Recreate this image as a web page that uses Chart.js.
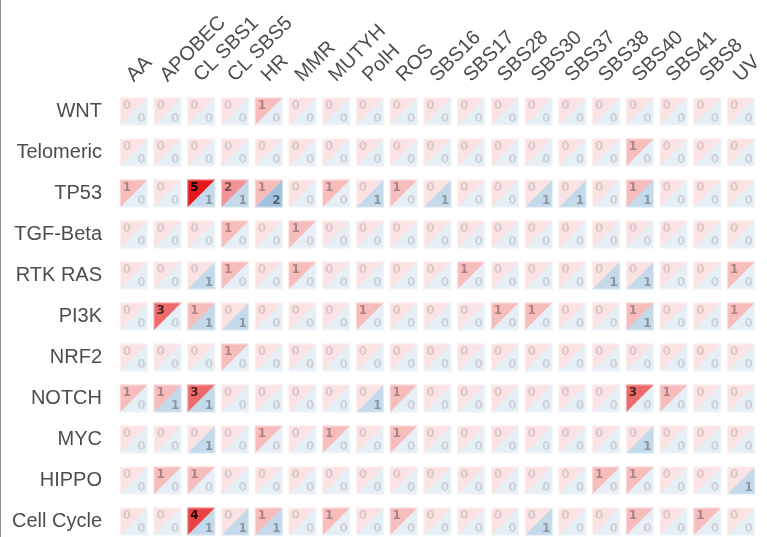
<!DOCTYPE html>
<html>
<head>
<meta charset="utf-8">
<script src="https://cdn.jsdelivr.net/npm/chart.js@4"></script>
<style>
  html, body { margin: 0; padding: 0; background: #fff; }
  canvas { display: block; }
</style>
</head>
<body>
<canvas id="myChart" width="767" height="537"></canvas>
<script>
const pathways = ["WNT", "Telomeric", "TP53", "TGF-Beta", "RTK RAS", "PI3K", "NRF2", "NOTCH", "MYC", "HIPPO", "Cell Cycle"];
const signatures = ["AA", "APOBEC", "CL SBS1", "CL SBS5", "HR", "MMR", "MUTYH", "PolH", "ROS", "SBS16", "SBS17", "SBS28", "SBS30", "SBS37", "SBS38", "SBS40", "SBS41", "SBS8", "UV"];

// upper-left triangle counts (red)
const redCounts = [
  [0,0,0,0,1,0,0,0,0,0,0,0,0,0,0,0,0,0,0],
  [0,0,0,0,0,0,0,0,0,0,0,0,0,0,0,1,0,0,0],
  [1,0,5,2,1,0,1,0,1,0,0,0,0,0,0,1,0,0,0],
  [0,0,0,1,0,1,0,0,0,0,0,0,0,0,0,0,0,0,0],
  [0,0,0,1,0,1,0,0,0,0,1,0,0,0,0,0,0,0,1],
  [0,3,1,0,0,0,0,1,0,0,0,1,1,0,0,1,0,0,1],
  [0,0,0,1,0,0,0,0,0,0,0,0,0,0,0,0,0,0,0],
  [1,1,3,0,0,0,0,0,1,0,0,0,0,0,0,3,1,0,0],
  [0,0,0,0,1,0,1,0,1,0,0,0,0,0,0,0,0,0,0],
  [0,1,1,0,0,0,0,0,0,0,0,0,0,0,1,1,0,0,0],
  [0,0,4,0,1,0,1,0,1,0,0,0,0,0,0,1,0,1,0]
];

// lower-right triangle counts (blue)
const blueCounts = [
  [0,0,0,0,0,0,0,0,0,0,0,0,0,0,0,0,0,0,0],
  [0,0,0,0,0,0,0,0,0,0,0,0,0,0,0,0,0,0,0],
  [0,0,1,1,2,0,0,1,0,1,0,0,1,1,0,1,0,0,0],
  [0,0,0,0,0,0,0,0,0,0,0,0,0,0,0,0,0,0,0],
  [0,0,1,0,0,0,0,0,0,0,0,0,0,0,1,1,0,0,0],
  [0,0,1,1,0,0,0,0,0,0,0,0,0,0,0,1,0,0,0],
  [0,0,0,0,0,0,0,0,0,0,0,0,0,0,0,0,0,0,0],
  [0,1,1,0,0,0,0,1,0,0,0,0,0,0,0,0,0,0,0],
  [0,0,1,0,0,0,0,0,0,0,0,0,0,0,0,1,0,0,0],
  [0,0,0,0,0,0,0,0,0,0,0,0,0,0,0,0,0,0,1],
  [0,0,1,1,1,0,0,0,0,0,0,0,1,0,0,0,0,0,0]
];

const maxCount = 5;
const rowStep = 41;
const firstRowY = 111.5;

const toPoints = (matrix) => {
  const points = [];
  matrix.forEach((row, r) => {
    row.forEach((v, c) => {
      points.push({ x: signatures[c], y: r, v: v });
    });
  });
  return points;
};

const alphaFor = (v) => 0.12 + 0.88 * v / maxCount;

const rgba = (rgb, a) => `rgba(${rgb[0]}, ${rgb[1]}, ${rgb[2]}, ${a})`;

const RED = [228, 26, 28];
const BLUE = [55, 126, 184];

const leftLine = {
  id: "leftLine",
  beforeDraw(chart) {
    const ctx = chart.ctx;
    ctx.save();
    ctx.fillStyle = "#8c8c8c";
    ctx.fillRect(0, 0, 1, chart.height);
    ctx.restore();
  },
};

const splitCells = {
  id: "splitCells",
  afterDatasetsDraw(chart) {
    const ctx = chart.ctx;
    const half = 14;
    const redMeta = chart.getDatasetMeta(0);
    const blueMeta = chart.getDatasetMeta(1);
    const redData = chart.data.datasets[0].data;
    const blueData = chart.data.datasets[1].data;
    ctx.save();
    redMeta.data.forEach((pt, i) => {
      const l = pt.x - half, r = pt.x + half;
      const t = pt.y - half, b = pt.y + half;
      const rv = redData[i].v;
      const bv = blueData[i].v;

      ctx.fillStyle = rgba(RED, alphaFor(rv));
      ctx.beginPath();
      ctx.moveTo(l, t);
      ctx.lineTo(r, t);
      ctx.lineTo(l, b);
      ctx.closePath();
      ctx.fill();

      const bp = blueMeta.data[i];
      ctx.fillStyle = rgba(BLUE, alphaFor(bv));
      ctx.beginPath();
      ctx.moveTo(bp.x + half, bp.y - half);
      ctx.lineTo(bp.x + half, bp.y + half);
      ctx.lineTo(bp.x - half, bp.y + half);
      ctx.closePath();
      ctx.fill();

      ctx.strokeStyle = "rgba(255, 255, 255, 0.45)";
      ctx.lineWidth = 1;
      ctx.strokeRect(l + 0.5, t + 0.5, 27, 27);

      ctx.font = "bold 12px 'DejaVu Sans'";
      ctx.textAlign = "center";
      ctx.textBaseline = "middle";
      ctx.fillStyle = `rgba(0, 0, 0, ${Math.min(1, alphaFor(rv) * 1.05)})`;
      ctx.fillText(String(rv), l + 7, t + 8);
      ctx.fillStyle = `rgba(0, 0, 0, ${Math.min(1, alphaFor(bv) * 1.05)})`;
      ctx.fillText(String(bv), l + 21.5, t + 21);
    });
    ctx.restore();
  },
};

const config = {
  type: "scatter",
  data: {
    datasets: [
      { label: "upper", data: toPoints(redCounts), pointRadius: 0 },
      { label: "lower", data: toPoints(blueCounts), pointRadius: 0 },
    ],
  },
  options: {
    responsive: false,
    animation: false,
    devicePixelRatio: 1,
    layout: { padding: { left: 0, right: 9, top: 0, bottom: 0 } },
    plugins: {
      legend: { display: false },
      tooltip: { enabled: false },
    },
    scales: {
      x: {
        type: "category",
        labels: signatures,
        position: "top",
        offset: true,
        grid: { display: false, drawTicks: false },
        border: { display: false },
        ticks: {
          minRotation: 45,
          maxRotation: 45,
          autoSkip: false,
          padding: 4,
          labelOffset: 13,
          color: "#4d4d4d",
          font: { family: "'Liberation Sans', Arial", size: 20 },
        },
        afterFit: (scale) => {
          scale.height = 91;
        },
      },
      y: {
        type: "linear",
        reverse: true,
        min: -0.5,
        max: 10.5,
        grid: { display: false, drawTicks: false },
        border: { display: false },
        afterBuildTicks: (scale) => {
          scale.ticks = pathways.map((p, i) => ({ value: i }));
        },
        ticks: {
          padding: 15,
          color: "#4d4d4d",
          font: { family: "'Liberation Sans', Arial", size: 20 },
          callback: (v) => pathways[v],
        },
        afterFit: (scale) => {
          scale.width = 117;
        },
      },
    },
  },
  plugins: [leftLine, splitCells],
};

let myChart = new Chart(document.getElementById("myChart"), config);

// fit the row range so rows land 41px apart starting at the first row position
const area = myChart.chartArea;
const yMin = -(firstRowY - area.top) / rowStep;
myChart.options.scales.y.min = yMin;
myChart.options.scales.y.max = yMin + (area.bottom - area.top) / rowStep;
myChart.update();
</script>
</body>
</html>
